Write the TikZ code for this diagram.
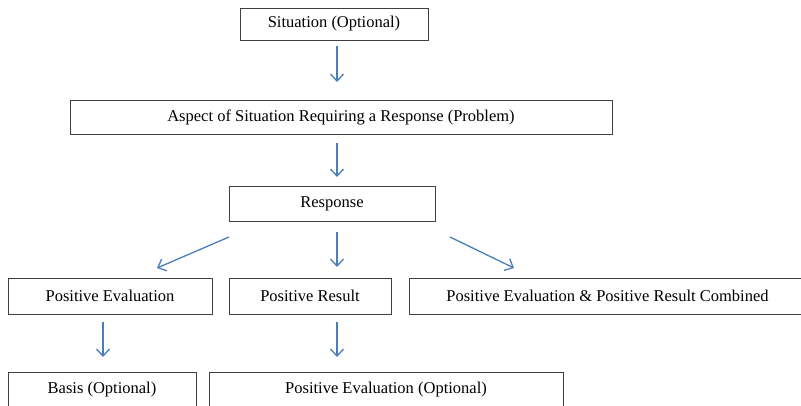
\documentclass[tikz,border=0pt]{standalone}
\usepackage{fontspec}
\setmainfont{Liberation Serif}
\usetikzlibrary{arrows.meta}
\definecolor{arrowblue}{HTML}{4A7EBB}
\definecolor{boxgray}{HTML}{3F3F3F}
\tikzset{
  box/.style={draw=boxgray, line width=0.9pt, rectangle, inner sep=0pt, font=\fontsize{16.5}{19}\selectfont},
  flow/.style={draw=arrowblue, line width=1.3pt, -{Straight Barb[length=7pt,width=13pt,line width=1.3pt]}}
}
\begin{document}
\begin{tikzpicture}[x=1pt,y=-1pt]
\useasboundingbox (0,0) rectangle (801,406);
\clip (0,0) rectangle (801,406);
\node[box, minimum width=188pt, minimum height=32pt] (sit) at (334,24) {Situation (Optional)};
\node[box, minimum width=542pt, minimum height=34pt] (asp) at (341,117) {Aspect of Situation Requiring a Response (Problem)};
\node[box, minimum width=206pt, minimum height=35pt] (resp) at (332,203.5) {Response};
\node[box, minimum width=204pt, minimum height=36pt] (pe) at (110,296) {Positive Evaluation};
\node[box, minimum width=162pt, minimum height=36pt] (pr) at (310,296) {Positive Result};
\node[box, minimum width=397pt, minimum height=36pt] (comb) at (607.5,296) {Positive Evaluation \& Positive Result Combined};
\node[box, minimum width=188pt, minimum height=36pt] (basis) at (102,390) {Basis (Optional)};
\node[box, minimum width=354pt, minimum height=36pt] (peo) at (386,390) {Positive Evaluation (Optional)};
% arrow end points
\coordinate (a1s) at (337,46);  \coordinate (a1e) at (337,82);
\coordinate (a2s) at (337,143); \coordinate (a2e) at (337,177);
\coordinate (a3s) at (229,237); \coordinate (a3e) at (157,268);
\coordinate (a4s) at (337,232); \coordinate (a4e) at (337,267);
\coordinate (a5s) at (450,237); \coordinate (a5e) at (514,268);
\coordinate (a6s) at (103,322); \coordinate (a6e) at (103,357);
\coordinate (a7s) at (337,322); \coordinate (a7e) at (337,357);
\draw[flow] (a1s) -- (a1e);
\draw[flow] (a2s) -- (a2e);
\draw[flow] (a3s) -- (a3e);
\draw[flow] (a4s) -- (a4e);
\draw[flow] (a5s) -- (a5e);
\draw[flow] (a6s) -- (a6e);
\draw[flow] (a7s) -- (a7e);
\end{tikzpicture}
\end{document}
